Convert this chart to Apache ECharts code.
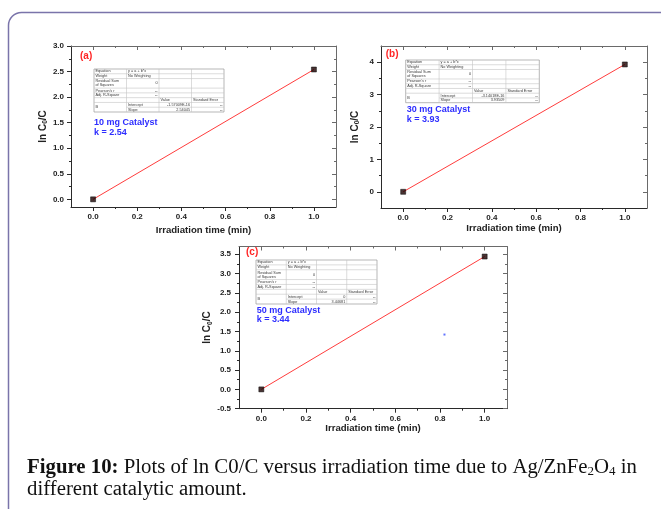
<!DOCTYPE html>
<html>
<head>
<meta charset="utf-8">
<script src="https://cdn.jsdelivr.net/npm/echarts@6/dist/echarts.min.js"></script>
<style>
  html, body { margin: 0; padding: 0; background: #fff; }
  #chart { width: 661px; height: 509px; }
</style>
</head>
<body>
<div id="chart"></div>
<script>
// ---- data ----
const timeMin = [0, 1];                  // irradiation time (min)
const lnRatioA = [0, 2.54];              // 10 mg catalyst
const lnRatioB = [0, 3.93];              // 30 mg catalyst
const lnRatioC = [0, 3.44];              // 50 mg catalyst
const rateConstants = ['2.54', '3.93', '3.44'];
const catalystLabels = ['10 mg Catalyst', '30 mg Catalyst', '50 mg Catalyst'];
const panelTags = ['(a)', '(b)', '(c)'];
const fitIntercepts = ['-1.57009E-16', '-3.14018E-16', '0'];
const fitSlopes = ['2.54045', '3.93509', '3.44681'];
const strayMark = [[0.82, 1.42]];

const xTicks = [0, 0.2, 0.4, 0.6, 0.8, 1.0];
const xMinorTicks = [0.1, 0.3, 0.5, 0.7, 0.9];
const yTicksA = [0, 0.5, 1.0, 1.5, 2.0, 2.5, 3.0];
const yMinorA = [0.25, 0.75, 1.25, 1.75, 2.25, 2.75];
const yTicksB = [0, 1, 2, 3, 4];
const yMinorB = [0.5, 1.5, 2.5, 3.5];
const yTicksC = [-0.5, 0, 0.5, 1.0, 1.5, 2.0, 2.5, 3.0, 3.5];
const yMinorC = [-0.25, 0.25, 0.75, 1.25, 1.75, 2.25, 2.75, 3.25];

// ---- styling ----
const FONT = 'Liberation Sans, Arial, sans-serif';
const SERIF = 'Liberation Serif, Times New Roman, serif';
const AXIS_DARK = '#2a2a2a';
const AXIS_LIGHT = '#6a6a6a';

const panels = [
  { grid: { left: 71, top: 46, width: 265, height: 161 }, yMin: -0.15, yMax: 3.0,
    yTicks: yTicksA, yMinor: yMinorA, yDigits: 1, values: lnRatioA,
    yNameGap: 18, xNameGap: 18, yLabelMargin: 7,
    tag: [80, 56.7], table: [94, 69, 130, 43], note: [94, 122.7] },
  { grid: { left: 381, top: 46, width: 266, height: 162 }, yMin: -0.5, yMax: 4.5,
    yTicks: yTicksB, yMinor: yMinorB, yDigits: 0, values: lnRatioB,
    yNameGap: 20, xNameGap: 15, yLabelMargin: 7,
    tag: [385.7, 54.3], table: [405.7, 60, 133.6, 42.7], note: [406.7, 109.7] },
  { grid: { left: 239, top: 246.5, width: 268, height: 162.2 }, yMin: -0.5, yMax: 3.7,
    yTicks: yTicksC, yMinor: yMinorC, yDigits: 1, values: lnRatioC,
    yNameGap: 21, xNameGap: 15, yLabelMargin: 8,
    tag: [246, 252.7], table: [256, 260, 121, 44], note: [256.7, 310.3] }
];

const grids = [], xAxes = [], yAxes = [], series = [], graphics = [];

function tickOnlyAxis(base, extra) {
  return Object.assign({
    type: 'value', splitLine: { show: false },
    axisLabel: { show: false }
  }, base, extra);
}
const hiddenLine = { show: false, onZero: false };

panels.forEach((p, i) => {
  grids.push(Object.assign({ containLabel: false }, p.grid));
  const xBase = { gridIndex: i, min: -0.1, max: 1.1 };
  const yBase = { gridIndex: i, min: p.yMin, max: p.yMax };
  const xMainIndex = xAxes.length;
  // bottom axis with labels
  xAxes.push(Object.assign({}, xBase, {
    type: 'value', position: 'bottom',
    name: 'Irradiation time (min)', nameLocation: 'middle', nameGap: p.xNameGap,
    nameTextStyle: { fontFamily: FONT, fontWeight: 'bold', fontSize: 9.6, color: '#222' },
    axisLine: { show: true, onZero: false, lineStyle: { color: AXIS_DARK, width: 1 } },
    axisTick: { show: true, inside: false, length: 4, customValues: xTicks, lineStyle: { color: AXIS_DARK } },
    axisLabel: { show: true, margin: 6, customValues: xTicks, fontFamily: FONT, fontWeight: 'bold',
      fontSize: 8, color: '#222', formatter: v => v.toFixed(1) },
    splitLine: { show: false }
  }));
  xAxes.push(tickOnlyAxis(xBase, { position: 'bottom', axisLine: hiddenLine,
    axisTick: { show: true, inside: false, length: 2, customValues: xMinorTicks, lineStyle: { color: AXIS_DARK } } }));
  // mirrored top axis
  xAxes.push(tickOnlyAxis(xBase, { position: 'top',
    axisLine: { show: true, onZero: false, lineStyle: { color: AXIS_LIGHT, width: 1 } },
    axisTick: { show: true, inside: true, length: 4, customValues: xTicks, lineStyle: { color: AXIS_LIGHT } } }));
  xAxes.push(tickOnlyAxis(xBase, { position: 'top', axisLine: hiddenLine,
    axisTick: { show: true, inside: true, length: 2, customValues: xMinorTicks, lineStyle: { color: AXIS_LIGHT } } }));

  const yMainIndex = yAxes.length;
  yAxes.push(Object.assign({}, yBase, {
    type: 'value', position: 'left',
    name: '{t|ln C}{s|0}{t|/C}', nameLocation: 'middle', nameGap: p.yNameGap,
    nameTextStyle: { color: '#222', rich: {
      t: { fontFamily: FONT, fontWeight: 'bold', fontSize: 10, lineHeight: 12, color: '#222' },
      s: { fontFamily: FONT, fontWeight: 'bold', fontSize: 6.5, lineHeight: 6, verticalAlign: 'bottom', color: '#222' }
    } },
    axisLine: { show: true, onZero: false, lineStyle: { color: AXIS_DARK, width: 1 } },
    axisTick: { show: true, inside: false, length: 4, customValues: p.yTicks, lineStyle: { color: AXIS_DARK } },
    axisLabel: { show: true, margin: p.yLabelMargin, customValues: p.yTicks, fontFamily: FONT, fontWeight: 'bold',
      fontSize: 8, color: '#222', formatter: v => v.toFixed(p.yDigits) },
    splitLine: { show: false }
  }));
  yAxes.push(tickOnlyAxis(yBase, { position: 'left', axisLine: hiddenLine,
    axisTick: { show: true, inside: false, length: 2, customValues: p.yMinor, lineStyle: { color: AXIS_DARK } } }));
  yAxes.push(tickOnlyAxis(yBase, { position: 'right',
    axisLine: { show: true, onZero: false, lineStyle: { color: AXIS_LIGHT, width: 1 } },
    axisTick: { show: true, inside: true, length: 4, customValues: p.yTicks, lineStyle: { color: AXIS_LIGHT } } }));
  yAxes.push(tickOnlyAxis(yBase, { position: 'right', axisLine: hiddenLine,
    axisTick: { show: true, inside: true, length: 2, customValues: p.yMinor, lineStyle: { color: AXIS_LIGHT } } }));

  const pts = timeMin.map((t, k) => [t, p.values[k]]);
  // linear fit line
  series.push({
    type: 'line', xAxisIndex: xMainIndex, yAxisIndex: yMainIndex, data: pts,
    symbol: 'none', lineStyle: { color: '#ff3c3c', width: 1 }, z: 2, silent: true, animation: false
  });
  // measured points
  series.push({
    type: 'scatter', xAxisIndex: xMainIndex, yAxisIndex: yMainIndex, data: pts,
    symbol: 'rect', symbolSize: 5, itemStyle: { color: '#1a0000', borderColor: '#000', borderWidth: 0.6 },
    z: 3, silent: true, animation: false
  });
  if (i === 2) {
    series.push({
      type: 'scatter', xAxisIndex: xMainIndex, yAxisIndex: yMainIndex, data: strayMark,
      symbol: 'rect', symbolSize: 2, itemStyle: { color: '#3a50ff' }, z: 3, silent: true, animation: false
    });
  }

  // panel tag
  graphics.push({ type: 'text', x: p.tag[0], y: p.tag[1], z: 10,
    style: { text: panelTags[i], fontFamily: FONT, fontWeight: 'bold', fontSize: 10,
      fill: '#ff2424', verticalAlign: 'middle' } });
  // catalyst note
  graphics.push({ type: 'text', x: p.note[0], y: p.note[1], z: 10,
    style: { text: catalystLabels[i] + '\nk = ' + rateConstants[i], fontFamily: FONT, fontWeight: 'bold',
      fontSize: 9, lineHeight: 9.6, fill: '#2d2dff', verticalAlign: 'top', y: -5 } });
  graphics.push(fitTable(p.table, fitIntercepts[i], fitSlopes[i]));
});

// Origin-style fit report table
function fitTable(box, intercept, slope) {
  const [x0, y0, w, h] = box;
  const cw = w / 4, u = h / 9;
  const rowUnits = [1, 1, 2, 1, 1, 1, 1, 1];
  const rowTop = [0];
  rowUnits.forEach((r, k) => rowTop.push(rowTop[k] + r * u));
  const children = [];
  const line = (xa, ya, xb, yb) => children.push({ type: 'line',
    shape: { x1: xa, y1: ya, x2: xb, y2: yb }, style: { stroke: '#c4c4c4', lineWidth: 0.6 } });
  children.push({ type: 'rect', shape: { x: 0, y: 0, width: w, height: h },
    style: { fill: '#fff', stroke: '#9a9a9a', lineWidth: 0.7 } });
  for (let c = 1; c < 4; c++) line(c * cw, 0, c * cw, h);
  for (let r = 1; r < 8; r++) {
    line(r === 7 ? cw : 0, rowTop[r], w, rowTop[r]);
  }
  const cell = (txt, col, r0, r1, right) => children.push({ type: 'text',
    x: right ? (col + 1) * cw - 1.5 : col * cw + 1.5, y: (rowTop[r0] + rowTop[r1]) / 2,
    style: { text: txt, fontFamily: FONT, fontSize: 3.8, lineHeight: 3.9, fill: '#3a3a3a',
      align: right ? 'right' : 'left', verticalAlign: 'middle' } });
  cell('Equation', 0, 0, 1); cell('y = a + b*x', 1, 0, 1);
  cell('Weight', 0, 1, 2); cell('No Weighting', 1, 1, 2);
  cell('Residual Sum\nof Squares', 0, 2, 3); cell('0', 1, 2, 3, true);
  cell("Pearson's r", 0, 3, 4); cell('--', 1, 3, 4, true);
  cell('Adj. R-Square', 0, 4, 5); cell('--', 1, 4, 5, true);
  cell('Value', 2, 5, 6); cell('Standard Error', 3, 5, 6);
  cell('B', 0, 6, 8);
  cell('Intercept', 1, 6, 7); cell(intercept, 2, 6, 7, true); cell('--', 3, 6, 7, true);
  cell('Slope', 1, 7, 8); cell(slope, 2, 7, 8, true); cell('--', 3, 7, 8, true);
  return { type: 'group', x: x0, y: y0, z: 10, children };
}

// figure frame
graphics.push({ type: 'rect', z: 1, shape: { x: 8.5, y: 12.5, width: 720, height: 560, r: [13, 0, 0, 0] },
  style: { fill: 'none', stroke: '#7a74aa', lineWidth: 1.5 } });

// caption
graphics.push({ type: 'text', x: 27, y: 456, z: 10,
  style: {
    text: '{b|Figure 10:} Plots of ln C0/C versus irradiation time due to Ag/ZnFe{s|2}O{s|4} in\ndifferent catalytic amount.',
    fontFamily: SERIF, fontSize: 20.8, lineHeight: 22.5, fill: '#111', verticalAlign: 'top',
    rich: {
      b: { fontFamily: SERIF, fontSize: 20.8, fontWeight: 'bold', lineHeight: 22.5, fill: '#111' },
      s: { fontFamily: SERIF, fontSize: 13, lineHeight: 12, verticalAlign: 'bottom', fill: '#111' }
    }
  } });

const chart = echarts.init(document.getElementById('chart'), null, { renderer: 'canvas' });
chart.setOption({
  backgroundColor: '#fff',
  animation: false,
  grid: grids,
  xAxis: xAxes,
  yAxis: yAxes,
  series: series,
  graphic: graphics
});
</script>
</body>
</html>
